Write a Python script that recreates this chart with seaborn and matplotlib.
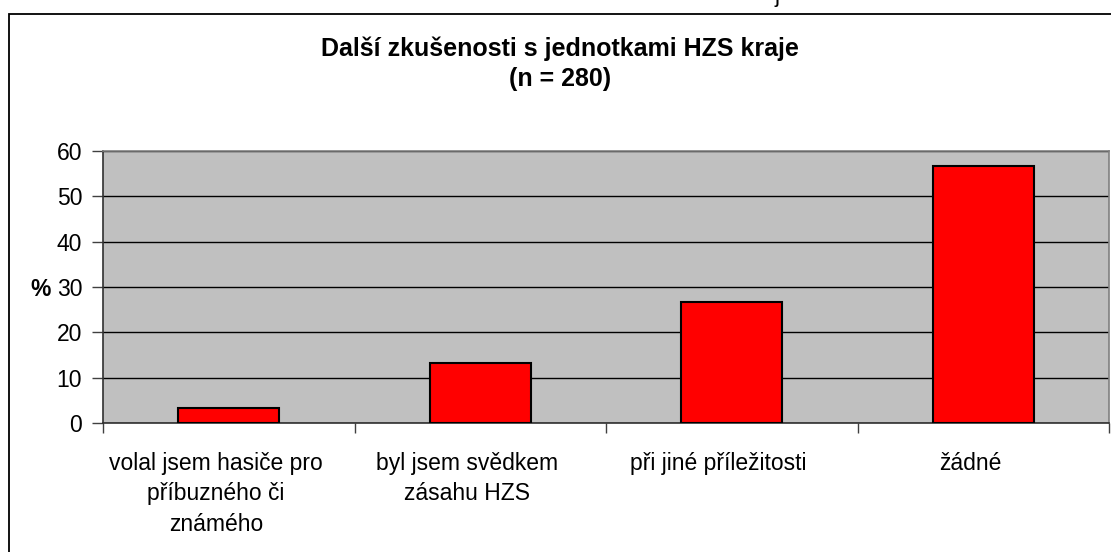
import matplotlib
matplotlib.use("Agg")
import matplotlib.pyplot as plt
import matplotlib.transforms as mtransforms
import seaborn as sns
import pandas as pd
from matplotlib.patches import Rectangle

categories = ["volal jsem hasiče pro\npříbuzného či\nznámého",
              "byl jsem svědkem\nzásahu HZS",
              "při jiné příležitosti",
              "žádné"]
values = [3.2, 13.2, 26.8, 56.8]
yticks = [0, 10, 20, 30, 40, 50, 60]
title = "Další zkušenosti s jednotkami HZS kraje\n(n = 280)"

plt.rcParams['font.family'] = ['Liberation Sans', 'DejaVu Sans']

df = pd.DataFrame({"cat": categories, "val": values})

fig = plt.figure(figsize=(11.11, 5.52), dpi=100)
ax = fig.add_axes([103/1111, 1-423/552, (1109-103)/1111, (423-151)/552])
ax.set_facecolor("#C0C0C0")

sns.barplot(data=df, x="cat", y="val", color="#FF0000", width=0.4,
            edgecolor="black", linewidth=1.5, saturation=1, ax=ax, zorder=3)

ax.set_ylim(0, 60)
ax.set_xlim(-0.5, 3.5)
ax.set_yticks(yticks)
ax.set_yticklabels([str(t) for t in yticks], fontsize=16.5)
ax.yaxis.grid(True, color="black", linewidth=1, zorder=1)
ax.set_axisbelow(True)
ax.tick_params(axis="y", length=8, width=1, pad=7, color="#404040")

ax.set_xticks(range(len(categories)))
ax.set_xticklabels(categories, fontsize=16.5, linespacing=1.4, va="top")
ax.tick_params(axis="x", which="major", length=0, pad=21)
ax.set_xticks([-0.5, 0.5, 1.5, 2.5, 3.5], minor=True)
ax.tick_params(axis="x", which="minor", length=7, width=1, color="#404040")
shift = mtransforms.ScaledTranslation(-13/100, 0, fig.dpi_scale_trans)
for lbl in ax.get_xticklabels():
    lbl.set_transform(lbl.get_transform() + shift)

ax.set_xlabel("")
ax.set_ylabel("")
fig.text(41/1111, 1-289/552, "%", ha="center", va="center", fontsize=16.5,
         fontweight="bold")

for s in ["top", "right"]:
    ax.spines[s].set_color("#808080")
    ax.spines[s].set_linewidth(1.2)
for s in ["left", "bottom"]:
    ax.spines[s].set_color("#303030")
    ax.spines[s].set_linewidth(1.2)

fig.text(560/1111, 1-64/552, title, ha="center", va="center", fontsize=18,
         fontweight="bold", linespacing=1.3)

# outer chart frame
fig.patches.append(Rectangle((8.5/1111, -0.1), 1.2, 1.1 - 13.5/552,
                             transform=fig.transFigure, fill=False,
                             edgecolor="black", linewidth=1.3, zorder=0))
# fragment of text above the frame (cut off in the original as well)
fig.text(777/1111, 1-2/552, "j", ha="center", va="baseline", fontsize=16)

fig.savefig("out.png", dpi=100)
